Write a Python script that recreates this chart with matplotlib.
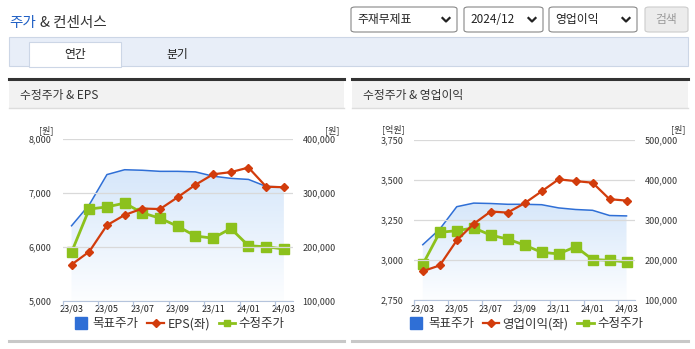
import matplotlib.pyplot as plt
import numpy as np
from matplotlib.patches import Rectangle, FancyBboxPatch
from matplotlib.lines import Line2D

plt.rcParams['font.family'] = ['Noto Sans CJK KR', 'DejaVu Sans']

months = ["23/03", "23/04", "23/05", "23/06", "23/07", "23/08", "23/09",
          "23/10", "23/11", "23/12", "24/01", "24/02", "24/03"]
target_price = [239000, 278000, 334000, 343000, 342000, 340000, 340000,
                339000, 331000, 327000, 325000, 312000, 311000]
adj_price = [190000, 270000, 274000, 281000, 263000, 253000, 238000,
             220000, 216000, 234000, 202000, 200000, 196000]
eps = [5670, 5910, 6400, 6590, 6710, 6700, 6920, 7150, 7345, 7385, 7470, 7115, 7105]
op_profit = [2932, 2968, 3124, 3228, 3305, 3298, 3357, 3431, 3506, 3495, 3485, 3382, 3373]

W, H = 695, 349
BLUE = "#2f6fd6"
RED = "#d23c0c"
GREEN = "#8cc11c"

fig = plt.figure(figsize=(W / 100, H / 100), dpi=100)


def fx(x):
    return x / W


def fy(y):
    return 1 - y / H


def rect(x0, y0, x1, y1, fc, ec="none", lw=0.8):
    fig.patches.append(Rectangle((fx(x0), fy(y1)), fx(x1) - fx(x0), fy(y0) - fy(y1),
                                 transform=fig.transFigure, fc=fc, ec=ec, lw=lw))


def hline(x0, x1, y, color, lw):
    fig.lines.append(Line2D([fx(x0), fx(x1)], [fy(y), fy(y)], transform=fig.transFigure,
                            color=color, lw=lw))


# ---- page header ----
fig.text(fx(9), fy(23), "주가", color="#1f5fc4", fontsize=10.5, va="center")
fig.text(fx(40), fy(23), "& 컨센서스", color="#333333", fontsize=10.5, va="center")

boxes = [(351, 457, "주재무제표"), (464, 543, "2024/12"), (549, 637, "영업이익")]
for x0, x1, label in boxes:
    fig.patches.append(FancyBboxPatch((fx(x0), fy(32)), fx(x1) - fx(x0), fy(7) - fy(32),
                                      boxstyle="round,pad=0,rounding_size=0.006",
                                      transform=fig.transFigure, fc="white", ec="#888888", lw=0.8))
    fig.text(fx(x0 + 6), fy(19.5), label, fontsize=8.5, color="#222222", va="center")
    cx = x1 - 11
    fig.lines.append(Line2D([fx(cx - 3.5), fx(cx), fx(cx + 3.5)], [fy(18), fy(21.5), fy(18)],
                            transform=fig.transFigure, color="#222222", lw=1.6))
fig.patches.append(FancyBboxPatch((fx(645), fy(32)), fx(688) - fx(645), fy(7) - fy(32),
                                  boxstyle="round,pad=0,rounding_size=0.006",
                                  transform=fig.transFigure, fc="#ececec", ec="#cccccc", lw=0.8))
fig.text(fx(666.5), fy(19.5), "검색", fontsize=8.5, color="#9a9a9a", va="center", ha="center")

# tab bar
rect(9, 37, 688, 66, "#e8eef8", "#ccd6e6")
rect(29, 42, 121, 67, "white", "#ccd6e6")
fig.text(fx(75), fy(54.5), "연간", fontsize=8.5, color="#222222", ha="center", va="center")
fig.text(fx(177), fy(54.5), "분기", fontsize=8.5, color="#222222", ha="center", va="center")

# panel headers and bottom lines
for x0, x1, title in [(9, 344, "수정주가 & EPS"), (352, 688, "수정주가 & 영업이익")]:
    rect(x0, 79, x1, 108, "#f2f2f2", "none")
    hline(x0, x1, 78.5, "#333333", 2.2)
    hline(x0, x1, 108.5, "#dddddd", 1.0)
    hline(x0, x1, 340.5, "#c8c8c8", 2.2)
    fig.text(fx(x0 + 11), fy(96), title, fontsize=8.5, color="#333333", va="center")


def draw_panel(rect_px, left_vals, left_lim, left_ticks, right_lim, right_ticks,
               left_unit, left_label, unit_pos):
    x0, y0, x1, y1 = rect_px
    ax = fig.add_axes([fx(x0), fy(y1), fx(x1) - fx(x0), fy(y0) - fy(y1)])
    ax2 = ax.twinx()
    ax.set_zorder(2)
    ax.patch.set_visible(False)
    ax2.set_zorder(1)

    x = np.arange(len(months))

    # target price area with vertical gradient
    poly = ax2.fill_between(x, target_price, right_lim[0], color="none", lw=0)
    grad = np.linspace(0, 1, 256).reshape(-1, 1)
    top_c = np.array([0.84, 0.905, 0.98])
    bot_c = np.array([0.99, 0.995, 1.0])
    img = (bot_c * (1 - grad) + top_c * grad)[:, None, :].repeat(2, axis=1)
    im = ax2.imshow(img, extent=[-0.5, 12.5, right_lim[0], max(target_price)],
                    origin="lower", aspect="auto", zorder=0.5)
    im.set_clip_path(poly.get_paths()[0], transform=ax2.transData)
    ax2.plot(x, target_price, color=BLUE, lw=1.1, zorder=2)
    ax2.plot(x, adj_price, color=GREEN, lw=2.0, marker="s", ms=7.5, zorder=3)
    ax.plot(x, left_vals, color=RED, lw=1.6, marker="D", ms=4.5, zorder=4)

    ax.set_xlim(-0.5, 12.5)
    ax.set_ylim(*left_lim)
    ax2.set_ylim(*right_lim)
    ax.set_yticks(left_ticks)
    ax.set_yticklabels([f"{v:,}" for v in left_ticks])
    ax2.set_yticks(right_ticks)
    ax2.set_yticklabels([f"{v:,}" for v in right_ticks])
    ax.grid(axis="y", color="#d9d9d9", lw=0.9)
    ax.set_axisbelow(True)

    ax.set_xticks(x[::2])
    ax.set_xticklabels(months[::2])
    ax.set_xticks(np.arange(-0.5, 13, 2), minor=True)
    ax.tick_params(axis="x", which="major", length=0, pad=3, labelsize=6.5, labelcolor="#222222")
    ax.tick_params(axis="x", which="minor", length=4, color="#b5c4dc", width=0.9)
    ax.tick_params(axis="y", length=0, pad=8, labelsize=6.5, labelcolor="#333333")
    ax2.tick_params(axis="y", length=0, pad=7, labelsize=6.5, labelcolor="#333333")
    for a in (ax, ax2):
        for s in ("top", "left", "right"):
            a.spines[s].set_visible(False)
        a.spines["bottom"].set_color("#b5c4dc")
    ax2.spines["bottom"].set_visible(False)

    ux_l, ux_r, uy = unit_pos
    fig.text(fx(ux_l), fy(uy), left_unit, fontsize=6.5, color="#333333", ha="right", va="center")
    fig.text(fx(ux_r), fy(uy), "[원]", fontsize=6.5, color="#333333", ha="right", va="center")

    handles = [Line2D([], [], color="none", marker="s", ms=9, mfc=BLUE, mec=BLUE),
               Line2D([], [], color=RED, lw=1.6, marker="D", ms=4),
               Line2D([], [], color=GREEN, lw=2.0, marker="s", ms=5)]
    cx = (x0 + x1) / 2 + 1
    fig.legend(handles, ["목표주가", left_label, "수정주가"], loc="center",
               bbox_to_anchor=(fx(cx), fy(324)), ncol=3, frameon=False,
               fontsize=9, handlelength=1.3, handletextpad=0.3, columnspacing=0.7,
               labelcolor="#333333")


draw_panel((62.7, 139, 292.7, 300.7), eps, (5000, 8000), [5000, 6000, 7000, 8000],
           (100000, 400000), [100000, 200000, 300000, 400000], "[원]", "EPS(좌)",
           (53, 340, 130))
draw_panel((414.3, 140.3, 635, 300.3), op_profit, (2750, 3750), [2750, 3000, 3250, 3500, 3750],
           (100000, 500000), [100000, 200000, 300000, 400000, 500000], "[억원]", "영업이익(좌)",
           (405, 686, 129))

fig.savefig("out.png", dpi=100)
